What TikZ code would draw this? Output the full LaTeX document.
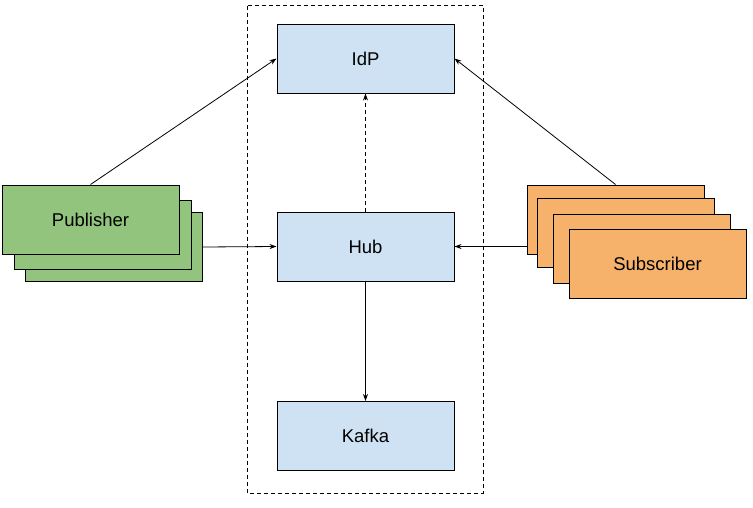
\documentclass[tikz,border=0pt]{standalone}
\usepackage{fontspec}
\setmainfont{Liberation Sans}
\usetikzlibrary{arrows.meta}

\definecolor{svcblue}{HTML}{CFE2F3}
\definecolor{pubgreen}{HTML}{93C47D}
\definecolor{suborange}{HTML}{F6B26B}

\tikzset{
    box/.style={draw=black,line width=1pt,minimum width=177pt,minimum height=69pt,inner sep=0pt,font=\fontsize{18.5}{22}\selectfont},
    svc/.style={box,fill=svcblue},
    pub/.style={box,fill=pubgreen},
    sub/.style={box,fill=suborange},
    link/.style={line width=0.8pt,-{Stealth[length=7pt,width=5pt]}}
}

\begin{document}
\begin{tikzpicture}[x=1pt,y=-1pt]
    \useasboundingbox (0,0) rectangle (753,507);
    \draw[line width=1pt,dash pattern=on 4pt off 3pt] (247.5,5.5) rectangle (483,493);
    \node[svc] (idp) at (365.5,58.5) {IdP};
    \node[svc] (hub) at (365.5,246.5) {Hub};
    \node[svc] (kafka) at (365.5,436) {Kafka};
    % publishers, back to front
    \node[pub] (pub3) at (113.5,247) {};
    \node[pub] (pub2) at (102.5,234.5) {};
    \node[pub] (pub1) at (90.5,219.5) {Publisher};
    % subscribers, back to front
    \node[sub] (sub1) at (615.5,219.5) {};
    \node[sub] (sub2) at (625.5,233) {};
    \node[sub] (sub3) at (641.5,248.5) {};
    \node[sub] (sub4) at (657.5,264) {Subscriber};
    \draw[link] (pub1.north) -- (idp.west);
    \draw[link] (sub1.north) -- (idp.east);
    \draw[link,dash pattern=on 4pt off 3pt] (hub.north) -- (idp.south);
    \draw[link] (pub3.east) -- (hub.west);
    \draw[link] (sub1.west |- hub.east) -- (hub.east);
    \draw[link] (hub.south) -- (kafka.north);
\end{tikzpicture}
\end{document}
